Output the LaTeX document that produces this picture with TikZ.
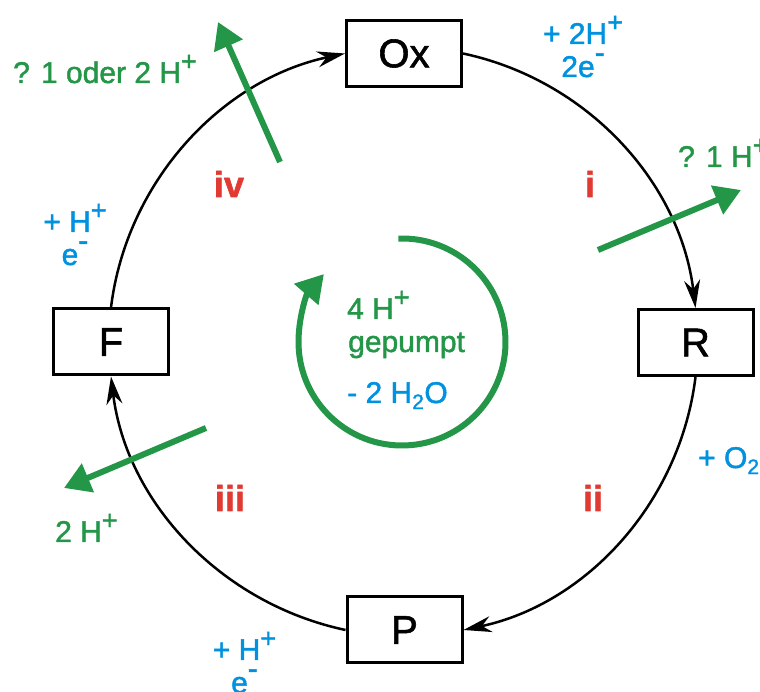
\documentclass[tikz,border=0pt]{standalone}
\usepackage{fontspec}
\setmainfont{Liberation Sans}[FakeBold=1.5]
\usetikzlibrary{arrows.meta}

\definecolor{hgreen}{RGB}{35,150,72}
\definecolor{hblue}{RGB}{0,146,222}
\definecolor{hred}{RGB}{224,58,50}

% charges, set high as in the drawing
\newcommand\ionp{\raisebox{0.42em}{\scalebox{0.9}{+}}}
\newcommand\ionm{\raisebox{0.48em}{-}}

\begin{document}
\begin{tikzpicture}[x=1pt, y=1pt,
    state/.style={draw, line width=3pt, minimum width=115pt, minimum height=66pt, font=\fontsize{40}{44}\selectfont},
    cyc/.style={line width=2.5pt, -{Stealth[length=28pt, width=16pt]}},
    proton/.style={hgreen, line width=6pt, -{Triangle[length=26pt, width=30pt]}},
    lab/.style={font=\fontsize{30}{33}\selectfont, inner sep=0pt, anchor=base west},
    gain/.style={hblue, font=\fontsize{30}{33}\selectfont, inner sep=0pt, align=center, anchor=base},
    roman/.style={hred, font=\fontsize{36}{40}\selectfont\bfseries, inner sep=0pt, anchor=base}]

    \useasboundingbox (0,0) rectangle (760,692);

    % the four states
    \node[state] (Ox) at (404,638.5) {Ox};
    \node[state] (R) at (695.5,349.5) {R};
    \node[state] (P) at (404.5,62) {P};
    \node[state] (F) at (111,350) {F};

    % the cycle, clockwise
    \draw[cyc] (Ox.east) to[out=-12, in=97, looseness=0.94] (R.north);
    \draw[cyc] (R.south) to[out=-97, in=12, looseness=0.94] (P.east);
    \draw[cyc] (P.west) to[out=168, in=-83, looseness=0.94] (F.south);
    \draw[cyc] (F.north) to[out=83, in=-168, looseness=0.94] (Ox.west);

    % step numbers
    \node[roman] (si) at (590,495) {i};
    \node[roman] (sii) at (593,181) {ii};
    \node[roman] (siii) at (230,181) {iii};
    \node[roman] (siv) at (229,495) {iv};

    % protons leaving
    \coordinate (A) at (598,442);
    \coordinate (B) at (741,502);
    \coordinate (C) at (206,264);
    \coordinate (D) at (64,204);
    \coordinate (E) at (280,530);
    \coordinate (G) at (218,670);
    \draw[proton] (A) -- (B);
    \draw[proton] (C) -- (D);
    \draw[proton] (E) -- (G);

    % pumped protons in the middle
    \coordinate (M) at (402,350);
    \draw[hgreen, line width=6pt, -{Triangle[length=27pt, width=31pt]}] (M) ++(92:103.5) arc[start angle=92, end angle=-221, radius=103.5];
    \node[lab, hgreen] (pump1) at (347,373) {4 H\ionp};
    \node[lab, hgreen] (pump2) at (348,340) {gepumpt};
    \node[lab, hblue] (water) at (347,289) {- 2 H\textsubscript{2}O};

    % labels round the cycle
    \node[lab, hgreen] (q4) at (13,609) {? 1 oder 2 H\ionp};
    \node[lab, hgreen] (q1) at (678,525) {? 1 H\ionp};
    \node[lab, hgreen] (q3) at (55,150) {2 H\ionp};
    \node[gain] (in1) at (583,615) {+ 2H\ionp\\2e\ionm};
    \node[lab, hblue] (in2) at (698,224) {+ O\textsubscript{2}};
    \node[gain] (in3) at (244.5,-1) {+ H\ionp\\e\ionm};
    \node[gain] (in4) at (75,427) {+ H\ionp\\e\ionm};

\end{tikzpicture}
\end{document}
